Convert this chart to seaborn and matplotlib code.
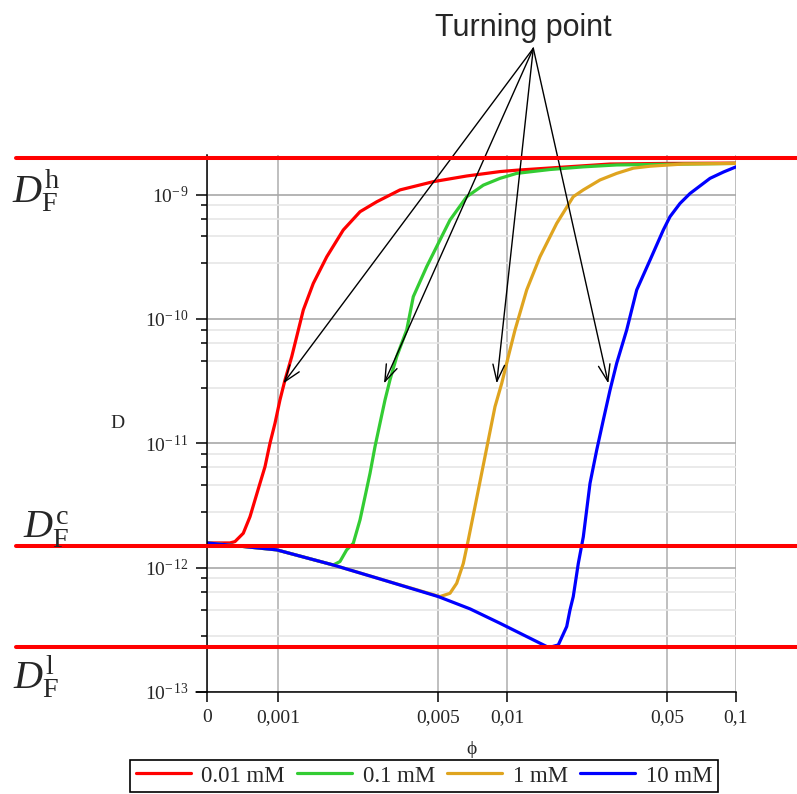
import numpy as np
import pandas as pd
import matplotlib
matplotlib.use("Agg")
import matplotlib.pyplot as plt
import matplotlib.transforms as mtransforms
from matplotlib.ticker import FixedLocator, FixedFormatter, NullFormatter, NullLocator
import seaborn as sns

# ---------------- data ----------------
series_labels = ["0.01 mM", "0.1 mM", "1 mM", "10 mM"]
series_colors = ["#ff0000", "#33cc33", "#dfa41f", "#0000ff"]

phi_001 = [0, 0.000324, 0.000394, 0.000511, 0.000606, 0.000676, 0.000746, 0.000817,
           0.000887, 0.000958, 0.00102, 0.001073, 0.001148, 0.00129, 0.001426, 0.001633,
           0.001928, 0.002282, 0.002699, 0.003411, 0.00477, 0.006668, 0.00932, 0.01102,
           0.02818, 0.05, 0.1]
D_001 = [1.58e-12, 1.58e-12, 1.62e-12, 1.89e-12, 2.57e-12, 3.50e-12, 4.76e-12, 6.48e-12,
         1.0e-11, 1.45e-11, 2.23e-11, 3.23e-11, 4.97e-11, 1.18e-10, 1.93e-10, 3.16e-10,
         5.19e-10, 7.28e-10, 8.75e-10, 1.09e-9, 1.27e-9, 1.41e-9, 1.53e-9, 1.57e-9,
         1.76e-9, 1.78e-9, 1.79e-9]

phi_01 = [0, 0.000511, 0.000982, 0.001744, 0.001865, 0.001995, 0.002132, 0.002281,
          0.002399, 0.002523, 0.002652, 0.002789, 0.002933, 0.003083, 0.003298, 0.003648,
          0.003898, 0.004459, 0.005097, 0.005637, 0.006668, 0.007881, 0.00932, 0.01102,
          0.01541, 0.02154, 0.03013, 0.1]
D_01 = [1.58e-12, 1.48e-12, 1.39e-12, 1.05e-12, 1.12e-12, 1.39e-12, 1.57e-12, 2.42e-12,
        3.72e-12, 5.74e-12, 9.39e-12, 1.45e-11, 2.23e-11, 3.23e-11, 4.97e-11, 8.15e-11,
        1.51e-10, 2.63e-10, 4.31e-10, 6.24e-10, 9.60e-10, 1.19e-9, 1.35e-9, 1.48e-9,
        1.59e-9, 1.67e-9, 1.73e-9, 1.78e-9]

phi_1 = [0, 0.000511, 0.000982, 0.001744, 0.002884, 0.005097, 0.005637, 0.006031,
         0.006444, 0.006776, 0.007248, 0.007752, 0.008286, 0.008864, 0.009482, 0.01013,
         0.01084, 0.01219, 0.01393, 0.01648, 0.01947, 0.02154, 0.02547, 0.03013, 0.03561,
         0.04212, 0.05888, 0.1]
D_1 = [1.58e-12, 1.48e-12, 1.39e-12, 1.05e-12, 7.96e-13, 5.85e-13, 6.22e-13, 7.49e-13,
       1.08e-12, 1.67e-12, 3.09e-12, 5.74e-12, 1.06e-11, 1.97e-11, 3.03e-11, 4.97e-11,
       8.15e-11, 1.71e-10, 3.16e-10, 5.86e-10, 9.61e-10, 1.09e-9, 1.31e-9, 1.48e-9, 1.63e-9,
       1.69e-9, 1.76e-9, 1.78e-9]

phi_10 = [0, 0.000511, 0.000982, 0.001744, 0.002884, 0.005012, 0.006897, 0.00932, 0.01178,
          0.01491, 0.01541, 0.01675, 0.01823, 0.01884, 0.01947, 0.02048, 0.02154, 0.02304,
          0.02465, 0.02634, 0.02818, 0.03013, 0.03332, 0.03685, 0.04212, 0.04815,
          0.0515, 0.05696, 0.06298, 0.07701, 0.08831, 0.1]
D_10 = [1.58e-12, 1.48e-12, 1.39e-12, 1.05e-12, 7.96e-13, 5.85e-13, 4.66e-13, 3.57e-13, 2.88e-13,
        2.32e-13, 2.29e-13, 2.39e-13, 3.36e-13, 4.57e-13, 5.85e-13, 1.08e-12, 1.77e-12, 4.76e-12,
        8.83e-12, 1.54e-11, 2.68e-11, 4.40e-11, 8.15e-11, 1.71e-10, 2.97e-10, 5.19e-10,
        6.64e-10, 8.49e-10, 1.02e-9, 1.35e-9, 1.52e-9, 1.67e-9]

# reference levels D_F^h, D_F^c, D_F^l
level_values = [1.95e-9, 1.50e-12, 2.32e-13]
level_labels = [r"$D_{\mathrm{F}}^{\mathrm{h}}$", r"$D_{\mathrm{F}}^{\mathrm{c}}$",
                r"$D_{\mathrm{F}}^{\mathrm{l}}$"]

# turning points (arrow tips)
tp_phi = [0.001055, 0.002904, 0.009016, 0.0277]
tp_D = [3.03e-11, 3.03e-11, 3.03e-11, 3.03e-11]

x_ticks = [0, 0.001, 0.005, 0.01, 0.05, 0.1]
x_ticklabels = ["0", "0,001", "0,005", "0,01", "0,05", "0,1"]
y_ticks = [1e-13, 1e-12, 1e-11, 1e-10, 1e-9]
y_ticklabels = [r"$10^{-\,13}$", r"$10^{-\,12}$", r"$10^{-\,11}$", r"$10^{-\,10}$", r"$10^{-\,9}$"]
y_minor_mult = [0.28, 0.46, 0.64, 0.82]

# ---------------- styling ----------------
sns.set_theme(style="white")
plt.rcParams["font.family"] = ["Liberation Serif", "DejaVu Serif"]
plt.rcParams["mathtext.fontset"] = "custom"
plt.rcParams["mathtext.rm"] = "Liberation Serif"
plt.rcParams["mathtext.it"] = "Liberation Serif:italic"
plt.rcParams["mathtext.bf"] = "Liberation Serif:bold"

W, H = 797, 794
fig = plt.figure(figsize=(W / 100, H / 100), dpi=100)
ax = fig.add_axes([207 / W, 102 / H, 529 / W, 537 / H])

frames = []
for lab, ph, d in zip(series_labels, [phi_001, phi_01, phi_1, phi_10], [D_001, D_01, D_1, D_10]):
    frames.append(pd.DataFrame({"phi": ph, "D": d, "conc": lab}))
df = pd.concat(frames, ignore_index=True)

sns.lineplot(data=df, x="phi", y="D", hue="conc", hue_order=series_labels,
             palette=series_colors, estimator=None, sort=False, lw=2.3, ax=ax, legend=True)
handles, labels = ax.get_legend_handles_labels()
ax.get_legend().remove()
for ln in ax.get_lines():
    ln.set_solid_joinstyle("round")

ax.set_xscale("symlog", linthresh=0.001, linscale=0.279)
ax.set_yscale("log")
ax.set_xlim(0, 0.1)
ax.set_ylim(1e-13, 2.08e-9)

ax.xaxis.set_major_locator(FixedLocator(x_ticks))
ax.xaxis.set_major_formatter(FixedFormatter(x_ticklabels))
ax.xaxis.set_minor_locator(NullLocator())
ax.yaxis.set_major_locator(FixedLocator(y_ticks))
ax.yaxis.set_major_formatter(FixedFormatter(y_ticklabels))
minor = [m * 10.0 ** k for k in range(-12, -8) for m in y_minor_mult]
ax.yaxis.set_minor_locator(FixedLocator(minor))
ax.yaxis.set_minor_formatter(NullFormatter())

ax.set_axisbelow(True)
ax.grid(which="major", axis="x", color="#b4b4b4", lw=1.2)
ax.grid(which="major", axis="y", color="#a8a8a8", lw=1.2)
ax.grid(which="minor", axis="y", color="#e6e6e6", lw=1.2)

for s in ["top", "right"]:
    ax.spines[s].set_visible(False)
for s in ["left", "bottom"]:
    ax.spines[s].set_color("black")
    ax.spines[s].set_linewidth(1.1)
ax.plot([-0.02, 0], [0, 0], transform=ax.transAxes, color="black", lw=1.1, clip_on=False)

ax.tick_params(axis="y", which="major", direction="out", length=8, width=1.1,
               color="black", labelsize=14, pad=5, left=True)
ax.tick_params(axis="y", which="minor", direction="out", length=4.5, width=1.1,
               color="black", left=True)
ax.tick_params(axis="x", which="major", direction="out", length=7, width=1.1,
               color="black", labelsize=14, pad=5, bottom=True)

ax.set_xlabel("ϕ", fontsize=14, va="center")
ax.xaxis.set_label_coords(0.5, -0.108)
ax.set_ylabel("D", fontsize=14, rotation=0, va="center", ha="center")
ax.yaxis.set_label_coords(-0.170, 0.5)

# reference levels spanning the full figure width
trans = mtransforms.blended_transform_factory(fig.transFigure, ax.transData)
for v in level_values:
    ax.plot([16 / W, 1.0], [v, v], transform=trans, color="#ff0000", lw=2.9,
            clip_on=False, zorder=10)
label_pos = [(12, 202), (23, 538), (13, 688)]
for (px, py), txt in zip(label_pos, level_labels):
    fig.text(px / W, 1 - py / H, txt, fontsize=29, ha="left", va="baseline")

# turning point annotation
fig.text(523 / W, 1 - 36 / H, "Turning point", fontsize=22, family="Liberation Sans",
         ha="center", va="baseline")
for x, y in zip(tp_phi, tp_D):
    ax.annotate("", xy=(x, y), xycoords="data", xytext=(533.3 / W, 1 - 48.3 / H),
                textcoords="figure fraction", annotation_clip=False,
                arrowprops=dict(arrowstyle="->,head_length=1.0,head_width=0.35",
                                color="black", lw=1.0, shrinkA=0, shrinkB=0))

leg = fig.legend(handles, labels, ncol=4, loc="center",
                 bbox_to_anchor=(424 / W, 1 - 776 / H), bbox_transform=fig.transFigure,
                 frameon=True, fancybox=False, edgecolor="black", framealpha=1,
                 prop={"family": "Liberation Serif", "size": 16.5},
                 handlelength=2.4, handletextpad=0.45, columnspacing=0.55,
                 borderpad=0.25, borderaxespad=0)
leg.get_frame().set_linewidth(1.2)
for h in leg.legend_handles:
    h.set_linewidth(2.3)

fig.savefig("out.png", dpi=100)
